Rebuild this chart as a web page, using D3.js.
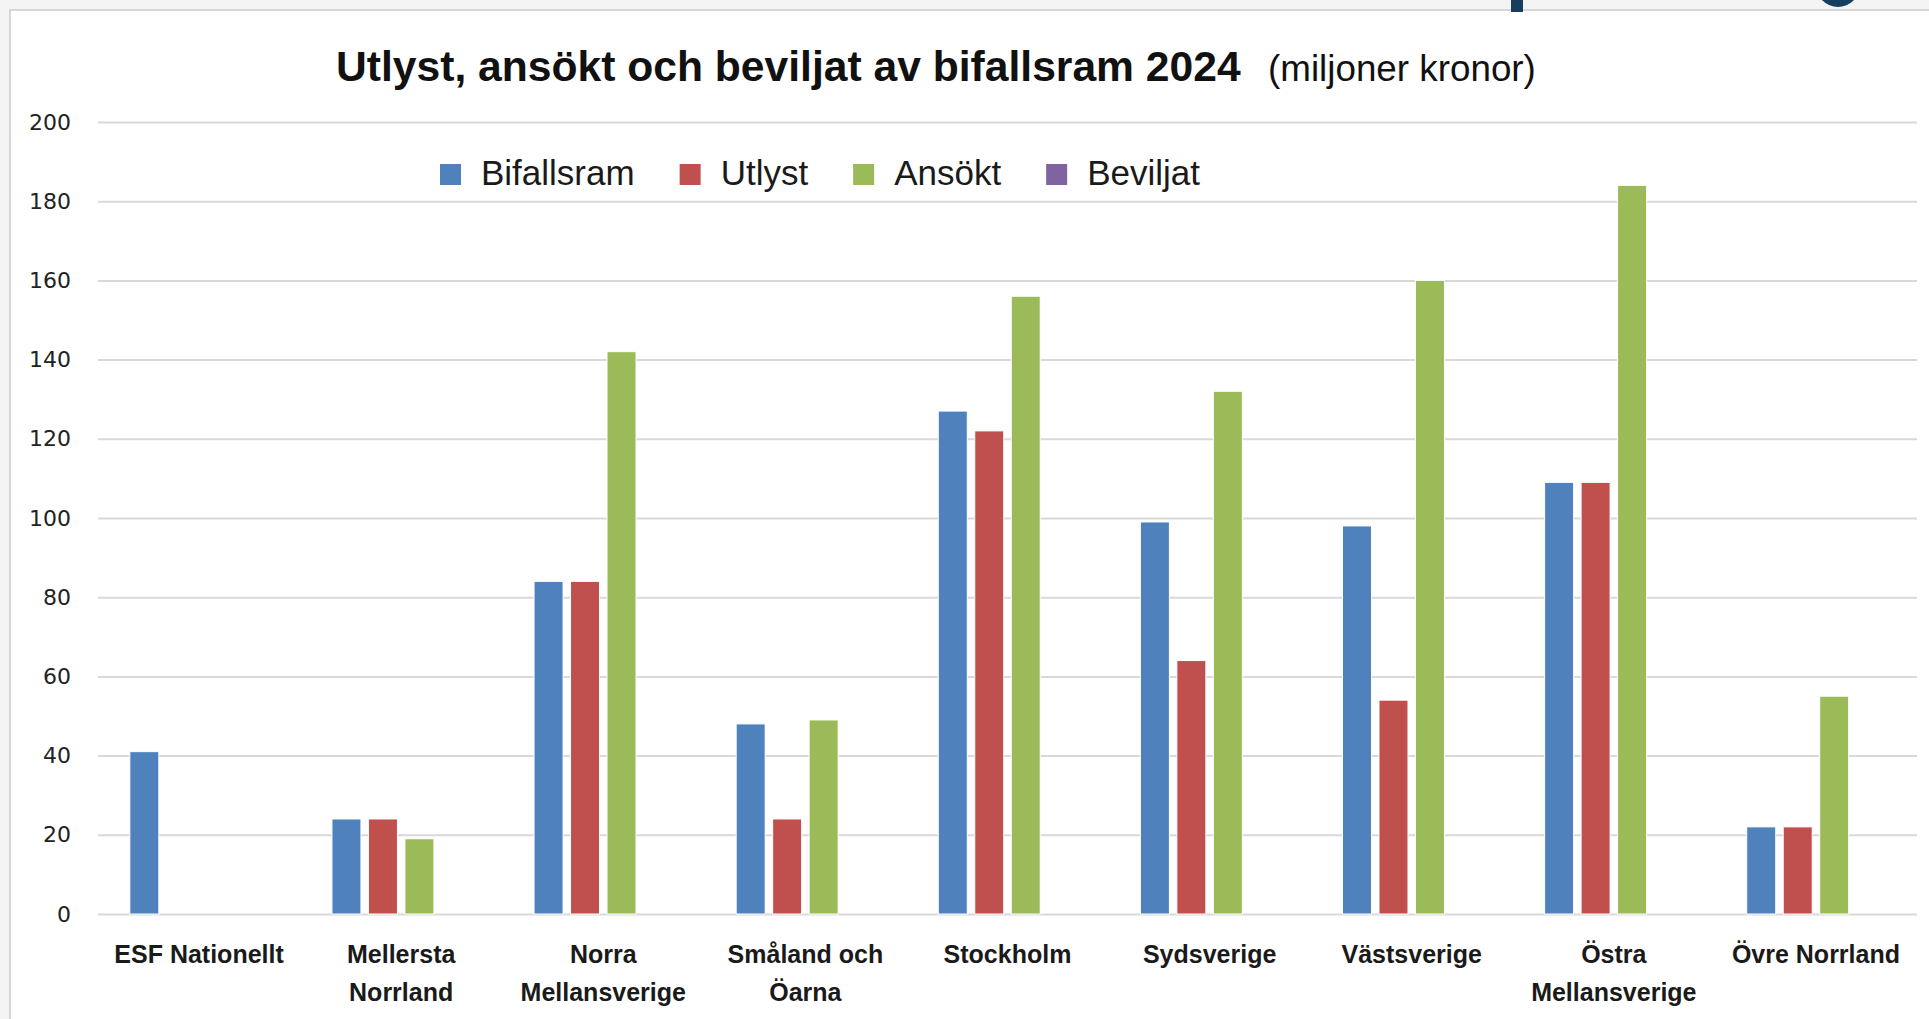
<!DOCTYPE html>
<html>
<head>
<meta charset="utf-8">
<script src="https://cdn.jsdelivr.net/npm/d3@7"></script>
<style>
  body { margin: 0; background: #f4f4f4; }
  svg { display: block; }
  .grid line { stroke: #d9d9d9; stroke-width: 2; }
  .grid text { font-family: "DejaVu Sans", Verdana, sans-serif; font-size: 22px; fill: #222; }
  .cat-label { font-family: "Liberation Sans", Arial, sans-serif; font-weight: bold; font-size: 25px; fill: #1a1a1a; }
  .legend-label { font-family: "Liberation Sans", Arial, sans-serif; font-size: 35px; fill: #1a1a1a; }
  .title { font-family: "Liberation Sans Narrow", "Liberation Sans", Arial, sans-serif; fill: #111; }
</style>
</head>
<body>
<svg></svg>
<script>
var width = 1929,
    height = 1019;

var categories = ["ESF Nationellt", "Mellersta Norrland", "Norra Mellansverige", "Småland och Öarna",
  "Stockholm", "Sydsverige", "Västsverige", "Östra Mellansverige", "Övre Norrland"];
var seriesNames = ["Bifallsram", "Utlyst", "Ansökt", "Beviljat"];
var seriesColors = ["#4f81bd", "#c0504d", "#9bbb59", "#8064a2"];

// miljoner kronor
var bifallsram = [41, 24, 84, 48, 127, 99, 98, 109, 22];
var utlyst     = [0, 24, 84, 24, 122, 64, 54, 109, 22];
var ansokt     = [0, 19, 142, 49, 156, 132, 160, 184, 55];
var beviljat   = [0, 0, 0, 0, 0, 0, 0, 0, 0];
var yTicks = [0, 20, 40, 60, 80, 100, 120, 140, 160, 180, 200];

var seriesValues = [bifallsram, utlyst, ansokt, beviljat];

var plotLeft = 98, plotRight = 1917, plotTop = 122, plotBottom = 914;

var svg = d3.select("svg")
    .attr("width", width)
    .attr("height", height);

// slide frame
svg.append("rect")
    .attr("width", width).attr("height", height)
    .attr("fill", "#f4f4f4");
svg.append("rect")
    .attr("x", 10).attr("y", 10)
    .attr("width", width - 10).attr("height", height - 10)
    .attr("fill", "#fff");
svg.append("path")
    .attr("d", "M10," + height + "V10H" + width)
    .attr("fill", "none")
    .attr("stroke", "#d6d6d6")
    .attr("stroke-width", 2);

// bits of the logo peeking in at the top
svg.append("rect")
    .attr("x", 1511).attr("y", 0)
    .attr("width", 12).attr("height", 12)
    .attr("fill", "#163f5f");
svg.append("circle")
    .attr("cx", 1838).attr("cy", -15).attr("r", 22)
    .attr("fill", "#163f5f");

var y = d3.scaleLinear()
    .domain([0, 200])
    .range([plotBottom, plotTop]);

var x0 = d3.scaleBand()
    .domain(categories)
    .range([plotLeft, plotRight])
    .paddingInner(0.315)
    .paddingOuter(0.1575);

var x1 = d3.scaleBand()
    .domain(seriesNames)
    .range([0, x0.bandwidth()])
    .paddingInner(0.205);

var grid = svg.append("g")
    .attr("class", "grid")
    .attr("transform", "translate(" + plotLeft + ",0)")
    .call(d3.axisLeft(y)
      .tickValues(yTicks)
      .tickSize(-(plotRight - plotLeft))
      .tickPadding(27));
grid.select(".domain").remove();

// bars
var groups = svg.selectAll(".group")
    .data(categories)
  .enter().append("g")
    .attr("class", "group")
    .attr("transform", function(d) { return "translate(" + x0(d) + ",0)"; });

groups.selectAll("rect")
    .data(function(d, i) {
      return seriesNames.map(function(s, j) {
        return { series: s, value: seriesValues[j][i], color: seriesColors[j] };
      }).filter(function(e) { return e.value > 0; });
    })
  .enter().append("rect")
    .attr("x", function(d) { return x1(d.series); })
    .attr("y", function(d) { return y(d.value); })
    .attr("width", x1.bandwidth())
    .attr("height", function(d) { return y(0) - y(d.value); })
    .attr("fill", function(d) { return d.color; })
    .attr("stroke", "#fff")
    .attr("stroke-width", 1);

// category labels, wrapped like Excel does
var labels = svg.selectAll(".cat-label")
    .data(categories)
  .enter().append("text")
    .attr("class", "cat-label")
    .attr("text-anchor", "middle")
    .attr("x", function(d) { return x0(d) + x0.bandwidth() / 2; })
    .attr("y", 963);

labels.each(function(d) {
  var text = d3.select(this),
      words = d.split(" "),
      line = [],
      tspan = text.append("tspan").attr("x", text.attr("x")).attr("dy", 0);
  words.forEach(function(w) {
    line.push(w);
    tspan.text(line.join(" "));
    if (tspan.node().getComputedTextLength() > 195 && line.length > 1) {
      line.pop();
      tspan.text(line.join(" "));
      line = [w];
      tspan = text.append("tspan").attr("x", text.attr("x")).attr("dy", 37.5).text(w);
    }
  });
});

// legend
var legend = svg.append("g").attr("class", "legend");
var lx = 440;
seriesNames.forEach(function(s, i) {
  legend.append("rect")
      .attr("x", lx).attr("y", 164)
      .attr("width", 21).attr("height", 21)
      .attr("fill", seriesColors[i]);
  var t = legend.append("text")
      .attr("class", "legend-label")
      .attr("x", lx + 41).attr("y", 185)
      .text(s);
  lx += 41 + t.node().getComputedTextLength() + 45;
});

// title: shrink the font until each part fits its width
function fitText(sel, size, maxWidth) {
  sel.attr("font-size", size);
  var len = sel.node().getComputedTextLength();
  if (len > maxWidth) sel.attr("font-size", size * maxWidth / len);
}

var title = svg.append("text")
    .attr("class", "title")
    .attr("x", 336).attr("y", 81)
    .attr("font-weight", "bold")
    .text("Utlyst, ansökt och beviljat av bifallsram 2024");
fitText(title, 46, 905);

var unit = svg.append("text")
    .attr("class", "title")
    .attr("x", 1268).attr("y", 81)
    .text("(miljoner kronor)");
fitText(unit, 38, 268);
</script>
</body>
</html>
